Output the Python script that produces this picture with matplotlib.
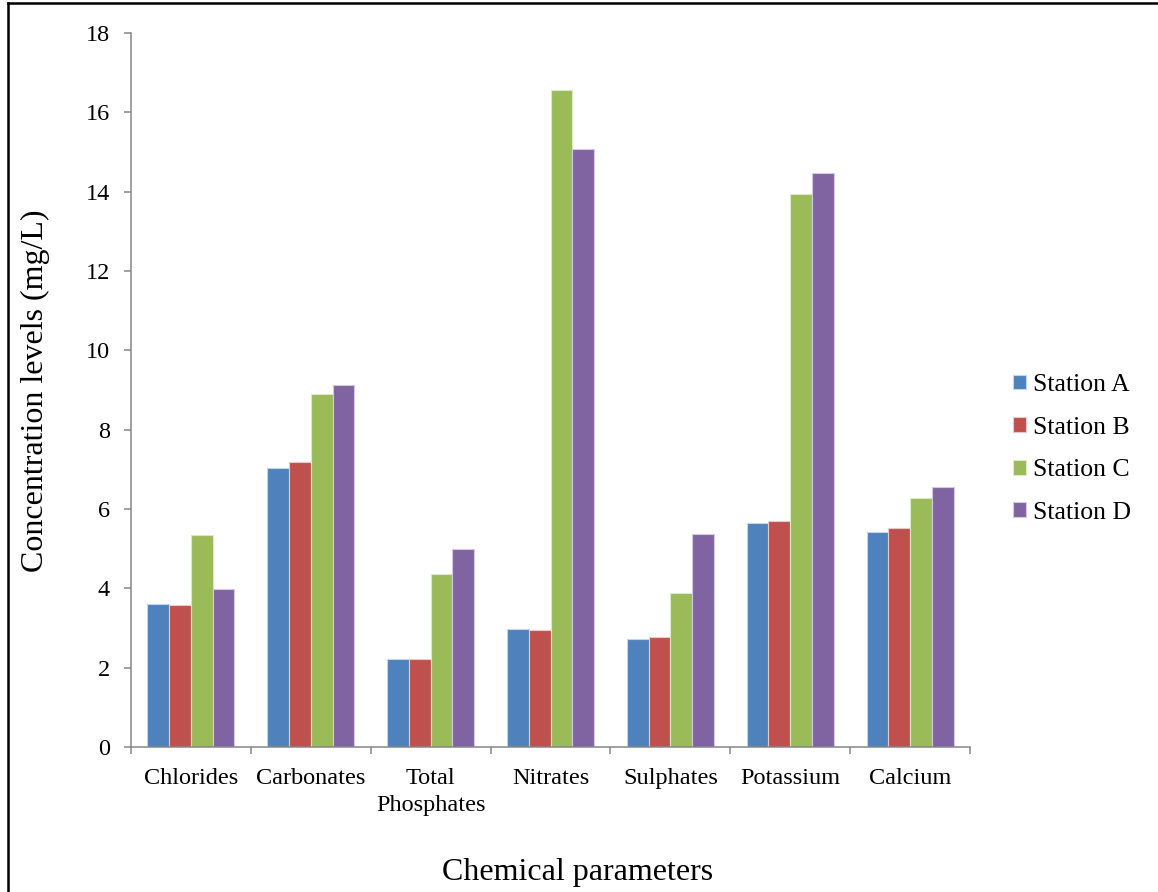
import matplotlib
matplotlib.use("Agg")
import matplotlib.pyplot as plt
from matplotlib.lines import Line2D
import numpy as np

plt.rcParams['font.family'] = ['Liberation Serif', 'DejaVu Serif']

categories = ["Chlorides", "Carbonates", "Total\nPhosphates", "Nitrates",
              "Sulphates", "Potassium", "Calcium"]
station_a = [3.60, 7.04, 2.23, 2.97, 2.72, 5.65, 5.42]
station_b = [3.58, 7.18, 2.23, 2.94, 2.77, 5.70, 5.52]
station_c = [5.35, 8.91, 4.36, 16.56, 3.89, 13.93, 6.28]
station_d = [3.97, 9.13, 5.00, 15.08, 5.37, 14.46, 6.55]
series_names = ["Station A", "Station B", "Station C", "Station D"]
y_ticks = [0, 2, 4, 6, 8, 10, 12, 14, 16, 18]

colors = ["#4F81BD", "#C0504D", "#9BBB59", "#8064A2"]
edge_colors = ["#C6D5EA", "#EBC8C7", "#DCE8C6", "#D2C8E0"]

fig = plt.figure(figsize=(11.58, 8.92), dpi=100)
ax = fig.add_axes([0.1129, 0.1626, 0.7250, 0.8004])

x = np.arange(len(categories))
bar_w = 0.1825
series = [station_a, station_b, station_c, station_d]
for i, (vals, name) in enumerate(zip(series, series_names)):
    offs = (i - 1.5) * bar_w
    ax.bar(x + offs, vals, width=bar_w, color=colors[i], label=name,
           edgecolor=edge_colors[i], linewidth=0.8)

ax.set_xlim(-0.5, len(categories) - 0.5)
ax.set_ylim(0, 18)
ax.set_yticks(y_ticks)
ax.set_yticklabels([str(t) for t in y_ticks], fontsize=17.5)

# category boundaries carry the ticks, centres carry the labels
ax.set_xticks(np.arange(-0.5, len(categories) + 0.5, 1.0))
ax.set_xticklabels([])
ax.set_xticks(x, minor=True)
ax.set_xticklabels(categories, minor=True, fontsize=17.5, linespacing=1.35)
ax.tick_params(axis='x', which='major', length=5, width=1.1, color='#868686', direction='out')
ax.tick_params(axis='x', which='minor', length=0, pad=15.5)
ax.tick_params(axis='y', length=5, width=1.1, color='#868686', direction='out', pad=10)

for s in ['top', 'right']:
    ax.spines[s].set_visible(False)
for s in ['left', 'bottom']:
    ax.spines[s].set_color('#868686')
    ax.spines[s].set_linewidth(1.1)

fig.text(0.031, 0.5617, "Concentration levels (mg/L)", rotation=90,
         ha='center', va='center', fontsize=23)
fig.text(0.499, 0.022, "Chemical parameters", ha='center', va='center', fontsize=23)

fig.legend(loc='center left', bbox_to_anchor=(0.8748, 0.4966), frameon=False,
           fontsize=18.5, handlelength=0.51, handleheight=0.51, handletextpad=0.28,
           labelspacing=0.80, borderpad=0, borderaxespad=0)

# outer frame
fig.add_artist(Line2D([0.00648, 0.00648], [0, 0.9961], color='black', linewidth=1.8,
                      transform=fig.transFigure))
fig.add_artist(Line2D([0.00648, 1.0], [0.9961, 0.9961], color='black', linewidth=1.8,
                      transform=fig.transFigure))

fig.savefig("out.png", dpi=100, facecolor='white')
